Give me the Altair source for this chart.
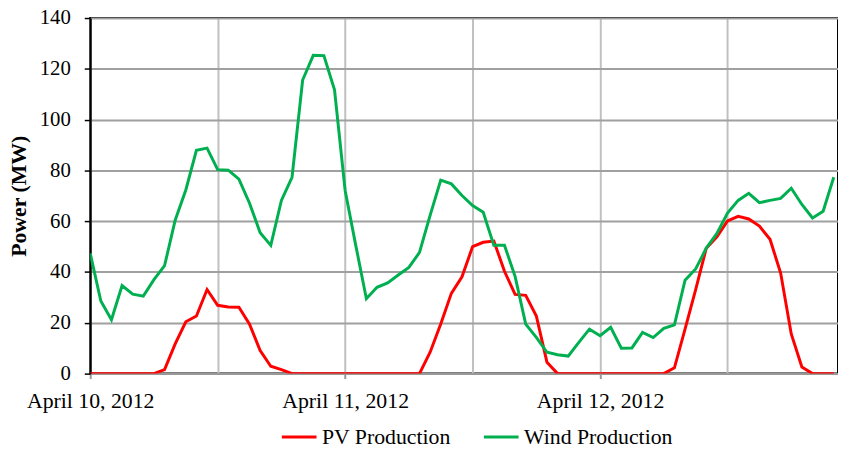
import altair as alt
import pandas as pd

hours = list(range(71))
pv = [0, 0, 0, 0, 0, 0, 0, 1.6, 11.7, 20.4,
      22.7, 33.1, 26.9, 26.2, 26.1, 19.5, 9.1, 2.9, 1.6, 0,
      0, 0, 0, 0, 0, 0, 0, 0, 0, 0,
      0, 0, 8.4, 19.5, 31.6, 38.1, 50.0, 51.7, 52.2, 40.3,
      31.2, 30.8, 22.7, 4.5, 0, 0, 0, 0, 0, 0,
      0, 0, 0, 0, 0, 2.3, 17.5, 33.1, 49.4, 53.9,
      60.1, 61.9, 60.9, 58.1, 52.9, 39.6, 15.6, 2.6, 0, 0, 0]
wind = [47.4, 28.6, 21.2, 34.7, 31.3, 30.5, 37.0, 42.5, 60.4, 72.3,
        87.9, 88.8, 80.3, 80.1, 76.6, 67.1, 55.5, 50.5, 68.2, 77.3,
        115.6, 125.3, 125.2, 111.7, 72.1, 50.5, 29.5, 34.0, 35.7, 38.8,
        41.8, 47.7, 62.3, 76.2, 74.7, 70.1, 66.2, 63.5, 50.5, 50.5,
        38.3, 19.5, 14.3, 8.4, 7.4, 6.9, 12.3, 17.5, 14.9, 18.2,
        10.0, 10.1, 16.2, 14.2, 17.8, 19.2, 36.8, 41.2, 49.4, 55.2,
        63.2, 68.2, 71.0, 67.3, 68.2, 69.0, 73.0, 66.6, 61.3, 63.9, 77.3]
series_names = ["PV Production", "Wind Production"]
series_colors = ["#ff0000", "#00b050"]
tick_hours = [0, 12, 24, 36, 48, 60]
day_labels = ["April 10, 2012", "April 11, 2012", "April 12, 2012"]

df = pd.DataFrame({
    "hour": hours * 2,
    "power": pv + wind,
    "series": [series_names[0]] * len(hours) + [series_names[1]] * len(hours),
})

FONT = "Liberation Serif"

label_expr = ("datum.value == 0 ? '%s' : datum.value == 24 ? '%s' : datum.value == 48 ? '%s' : ''"
              % tuple(day_labels))

x = alt.X("hour:Q",
          scale=alt.Scale(domain=[0, 70.4], nice=False, zero=False),
          axis=alt.Axis(values=tick_hours, labelExpr=label_expr, title=None,
                        grid=True, gridColor="#c0c0c0", gridWidth=2,
                        domainColor="#999999", domainWidth=2,
                        tickColor={"condition": {"test": "datum.value % 24 == 0", "value": "#999999"},
                                   "value": "transparent"},
                        tickSize=5, tickWidth=2,
                        labelFont=FONT, labelFontSize=22, labelColor="black",
                        labelPadding=12, labelFlush=False, labelOverlap=False))
y = alt.Y("power:Q",
          scale=alt.Scale(domain=[0, 140], nice=False),
          axis=alt.Axis(values=list(range(0, 141, 20)), title="Power (MW)",
                        grid=True, gridColor="#a0a0a0", gridWidth=2,
                        domainColor="black", domainWidth=2,
                        tickColor="black", tickSize=6, tickWidth=1.5,
                        labelFont=FONT, labelFontSize=21, labelColor="black",
                        labelPadding=14,
                        titleFont=FONT, titleFontSize=22, titleFontWeight="bold",
                        titleColor="black", titleX=-72, titleBaseline="middle"))
color = alt.Color("series:N",
                  scale=alt.Scale(domain=series_names, range=series_colors),
                  legend=alt.Legend(title=None, orient="none", direction="horizontal",
                                    legendX=192, legendY=404,
                                    symbolType="stroke", symbolSize=1225,
                                    symbolStrokeWidth=3,
                                    labelFont=FONT, labelFontSize=22, labelColor="black",
                                    labelOffset=4, columnPadding=26, padding=0))

base = alt.Chart(df).mark_line(strokeWidth=3, clip=True).encode(x=x, y=y, color=color)
pv_layer = base.transform_filter(alt.datum.series == series_names[0])
wind_layer = base.transform_filter(alt.datum.series == series_names[1])

chart = alt.layer(pv_layer, wind_layer).properties(
    width=755, height=359,
    autosize=alt.AutoSizeParams(type="none"),
    padding={"left": 83, "top": 8, "right": 0, "bottom": 76},
).configure_view(stroke="black", strokeWidth=2)

chart.save("out.html", embed_options={"renderer": "svg", "actions": False})
